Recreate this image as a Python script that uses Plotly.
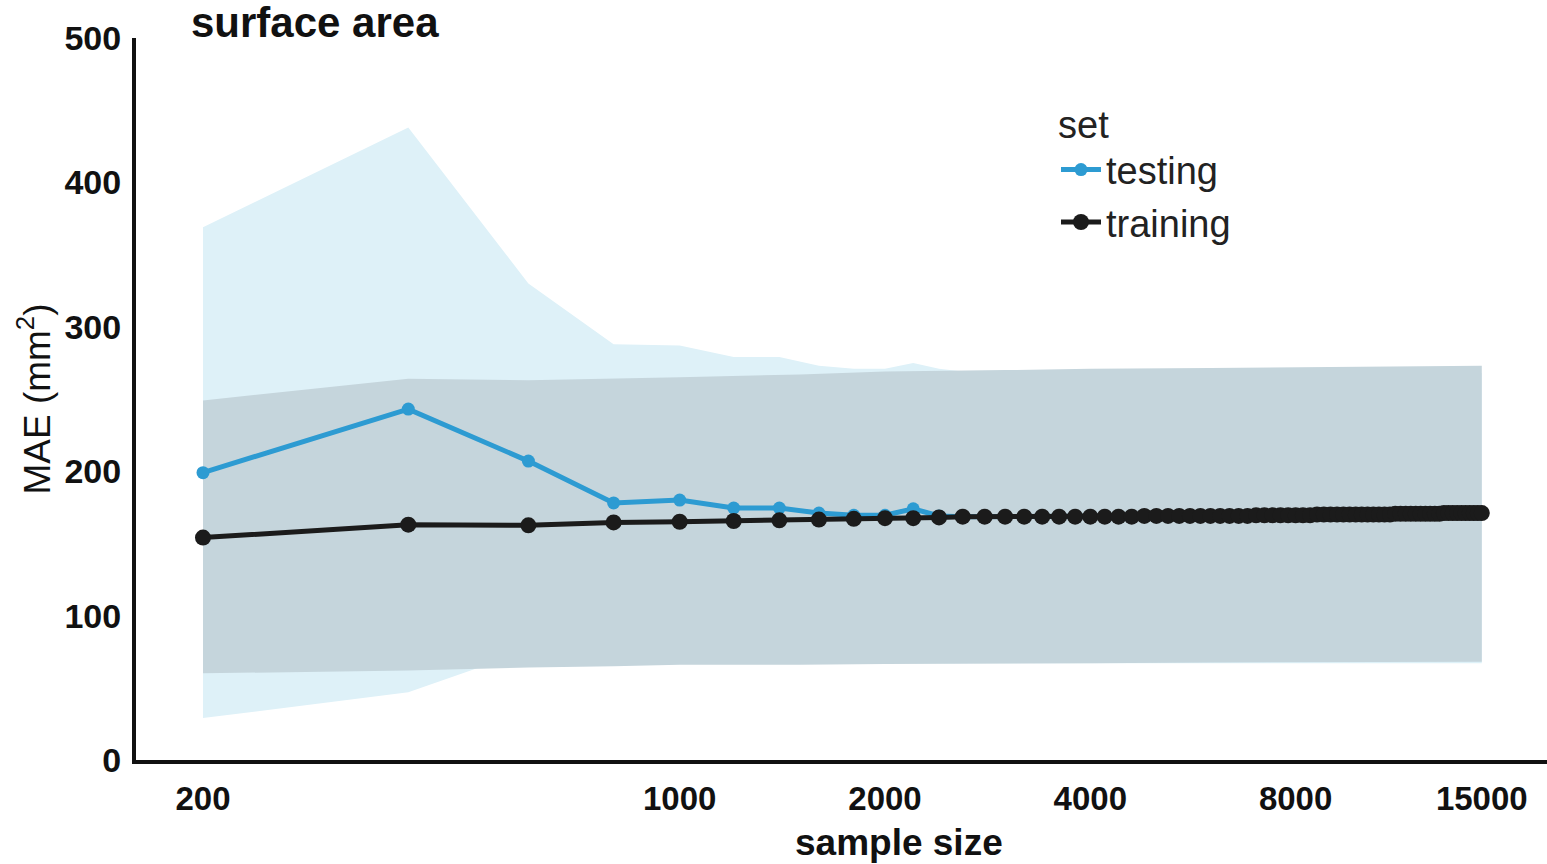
import plotly.graph_objects as go

# ---------------- data ----------------
sample_size = [200, 400, 600, 800, 1000, 1200, 1400, 1600, 1800, 2000,
               2200, 2400, 2600, 2800, 3000, 3200, 3400, 3600, 3800, 4000,
               4200, 4400, 4600, 4800, 5000, 5200, 5400, 5600, 5800, 6000,
               6200, 6400, 6600, 6800, 7000, 7200, 7400, 7600, 7800, 8000,
               8200, 8400, 8600, 8800, 9000, 9200, 9400, 9600, 9800, 10000,
               10200, 10400, 10600, 10800, 11000, 11200, 11400, 11600, 11800, 12000,
               12200, 12400, 12600, 12800, 13000, 13200, 13400, 13600, 13800, 14000,
               14200, 14400, 14600, 14800, 15000]

testing_mae = [199, 243, 207, 178, 180, 174.5, 174.5, 171, 169.5, 169.5,
               174, 169, 168.5, 168.5, 168.5, 168.5, 168.5, 168.5, 169, 169,
               169, 169, 169, 169, 169, 169, 169, 169, 169, 169,
               169, 169, 169, 169, 169.5, 169.5, 169.5, 169.5, 169.5, 169.5,
               169.5, 169.5, 170, 170, 170, 170, 170, 170, 170, 170,
               170, 170, 170, 170, 170, 170.5, 170.5, 170.5, 170.5, 170.5,
               170.5, 170.5, 170.5, 170.5, 170.5, 171, 171, 171, 171, 171,
               171, 171, 171, 171, 171]

training_mae = [154, 163, 162.5, 164.5, 165, 165.5, 166, 166.5, 167, 167.5,
                167.5, 168, 168.5, 168.5, 168.5, 168.5, 168.5, 168.5, 168.5, 168.5,
                168.5, 168.5, 168.5, 169, 169, 169, 169, 169, 169, 169,
                169, 169, 169, 169, 169.5, 169.5, 169.5, 169.5, 169.5, 169.5,
                169.5, 169.5, 170, 170, 170, 170, 170, 170, 170, 170,
                170, 170, 170, 170, 170, 170.5, 170.5, 170.5, 170.5, 170.5,
                170.5, 170.5, 170.5, 170.5, 170.5, 171, 171, 171, 171, 171,
                171, 171, 171, 171, 171]

# uncertainty bands
testing_band_size = [200, 400, 600, 800, 1000, 1200, 1400, 1600, 1800, 2000,
                     2200, 2400, 2600, 4000, 8000, 15000]
testing_upper = [369, 438, 330, 288, 287, 279, 279, 273, 271, 271,
                 275, 271, 269, 268, 268, 268]
testing_lower = [29, 47, 76, 68, 67, 67, 67, 67, 67, 67,
                 67, 67, 67, 67, 67, 67]

training_band_size = [200, 400, 600, 800, 1000, 1500, 2000, 3000, 4000,
                      6000, 8000, 10000, 12000, 15000]
training_upper = [249, 264, 263, 264, 265, 267, 269, 270, 271,
                  271.5, 272, 272, 272.5, 273]
training_lower = [60, 62, 64, 65, 66, 66, 66.5, 67, 67,
                  67.5, 67.5, 68, 68, 68]

x_tickvals = [200, 1000, 2000, 4000, 8000, 15000]
x_ticktext = ["200", "1000", "2000", "4000", "8000", "15000"]
y_tickvals = [0, 100, 200, 300, 400, 500]

BLUE = "#2D9BD2"
BLACK = "#1B1B1B"
FONT = "Arial, Liberation Sans, sans-serif"

fig = go.Figure()

# testing band
fig.add_trace(go.Scatter(
    x=testing_band_size + testing_band_size[::-1],
    y=testing_upper + testing_lower[::-1],
    fill="toself", fillcolor="#DEF1F8", line=dict(width=0),
    mode="lines", showlegend=False, hoverinfo="skip"))

# training band
fig.add_trace(go.Scatter(
    x=training_band_size + training_band_size[::-1],
    y=training_upper + training_lower[::-1],
    fill="toself", fillcolor="#C5D5DC", line=dict(width=0),
    mode="lines", showlegend=False, hoverinfo="skip"))

fig.add_trace(go.Scatter(
    x=sample_size, y=testing_mae, name="testing",
    mode="lines+markers",
    line=dict(color=BLUE, width=5),
    marker=dict(color=BLUE, size=13)))

fig.add_trace(go.Scatter(
    x=sample_size, y=training_mae, name="training",
    mode="lines+markers",
    line=dict(color=BLACK, width=5),
    marker=dict(color=BLACK, size=16)))

fig.update_layout(
    width=1547, height=864,
    margin=dict(l=136, r=0, t=38, b=104),
    paper_bgcolor="white", plot_bgcolor="white",
    font=dict(family=FONT, color="#111111"),
    title=dict(text="<b>surface area</b>", font=dict(size=42, family=FONT, color="#111111"),
               x=191 / 1547, xref="container", xanchor="left",
               y=1 - 22 / 864, yref="container", yanchor="middle"),
    legend=dict(
        title=dict(text="set", font=dict(size=38, family=FONT, color="#222222")),
        font=dict(size=38, family=FONT, color="#222222"),
        x=(1056 - 136) / 1411, y=(760 - 89) / 722,
        xanchor="left", yanchor="top",
        bgcolor="rgba(0,0,0,0)", itemwidth=40,
        tracegroupgap=0),
    showlegend=True,
    annotations=[dict(
        text="<b>sample size</b>", xref="paper", yref="paper",
        x=(899 - 136) / 1411, y=-(843 - 760) / 722,
        xanchor="center", yanchor="middle", showarrow=False,
        font=dict(size=37, family=FONT, color="#111111"))],
)

fig.update_xaxes(
    type="log",
    range=[2.2028, 4.2717],
    tickvals=x_tickvals, ticktext=x_ticktext,
    tickfont=dict(size=33, family=FONT, color="#111111", weight="bold"),
    ticks="outside", ticklen=6, tickcolor="rgba(0,0,0,0)",
    showgrid=False, zeroline=False,
    showline=True, linecolor="#111111", linewidth=4,
)

fig.update_yaxes(
    range=[0, 500],
    tickvals=y_tickvals,
    tickfont=dict(size=34, family=FONT, color="#111111", weight="bold"),
    ticks="outside", ticklen=4, tickcolor="rgba(0,0,0,0)",
    showgrid=False, zeroline=False,
    showline=True, linecolor="#111111", linewidth=4,
    title=dict(text="MAE (mm<sup>2</sup>)", font=dict(size=37, family=FONT, color="#111111"),
               standoff=4),
)

fig.write_html("out.html")
